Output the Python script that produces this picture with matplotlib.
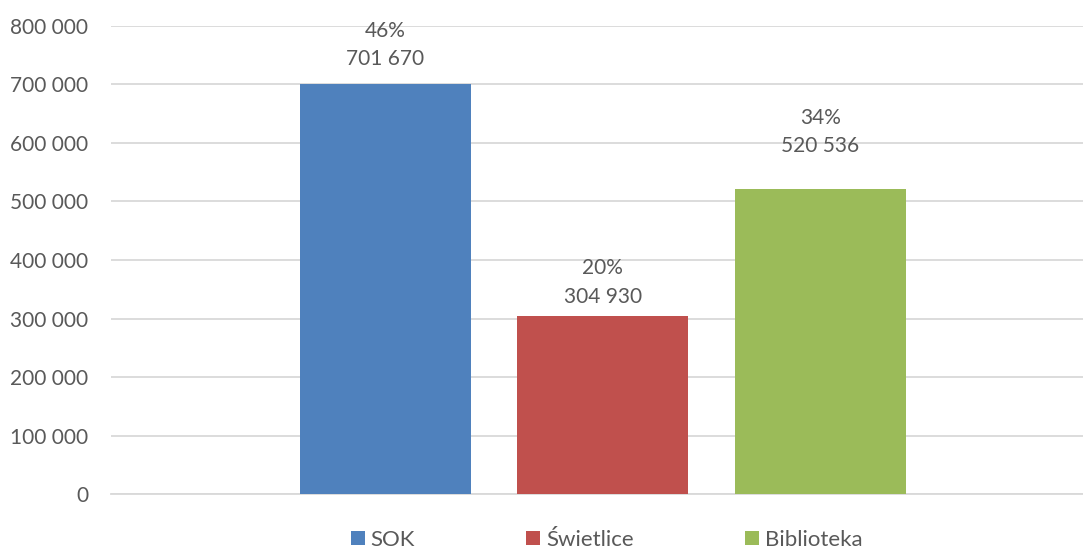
import matplotlib.pyplot as plt
from matplotlib.patches import Patch
from matplotlib.ticker import FuncFormatter

plt.rcParams['font.family'] = ['Lato', 'DejaVu Sans']

# data
categories = ["SOK", "Świetlice", "Biblioteka"]
values = [701670, 304930, 520536]
shares = ["46%", "20%", "34%"]
colors = ["#4f81bd", "#c0504d", "#9bbb59"]
yticks = [0, 100000, 200000, 300000, 400000, 500000, 600000, 700000, 800000]

# label placement above each bar (points), labels were nudged by hand in the original
label_gap = [17.6, 13.5, 31.0]

text_col = "#595959"

fig = plt.figure(figsize=(10.83, 5.48), dpi=100)
ax = fig.add_axes([0.1025, 0.0985, 0.8975, 0.8541])

xs = range(len(categories))
ax.bar(xs, values, width=0.786, color=colors, zorder=3)

for x, v, s, g in zip(xs, values, shares, label_gap):
    lab = f"{v:,}".replace(",", " ")
    ax.annotate(lab, (x, v), xytext=(0, g), textcoords="offset points",
                ha="center", va="center", fontsize=15, color=text_col,
                annotation_clip=False)
    ax.annotate(s, (x, v), xytext=(0, g + 20.5), textcoords="offset points",
                ha="center", va="center", fontsize=15, color=text_col,
                annotation_clip=False)

ax.set_xlim(-1.262, 3.209)
ax.set_ylim(0, 800000)
ax.set_yticks(yticks)
ax.yaxis.set_major_formatter(FuncFormatter(lambda v, p: f"{int(v):,}".replace(",", " ")))
ax.set_xticks([])
ax.grid(axis="y", color="#d9d9d9", linewidth=1.3, zorder=0)
for side in ["top", "right", "left"]:
    ax.spines[side].set_visible(False)
ax.spines["bottom"].set_color("#d9d9d9")
ax.spines["bottom"].set_linewidth(1.3)
ax.tick_params(axis="y", length=0, pad=16.5, labelsize=15, labelcolor=text_col)

handles = [Patch(facecolor=c) for c in colors]
fig.legend(handles, categories, loc="center", bbox_to_anchor=(0.56, 0.0146),
           ncol=3, frameon=False, fontsize=16, labelcolor=text_col,
           handlelength=0.63, handleheight=0.63, handletextpad=0.27,
           columnspacing=5.0, borderpad=0, borderaxespad=0)

fig.savefig("out.png", dpi=100)
